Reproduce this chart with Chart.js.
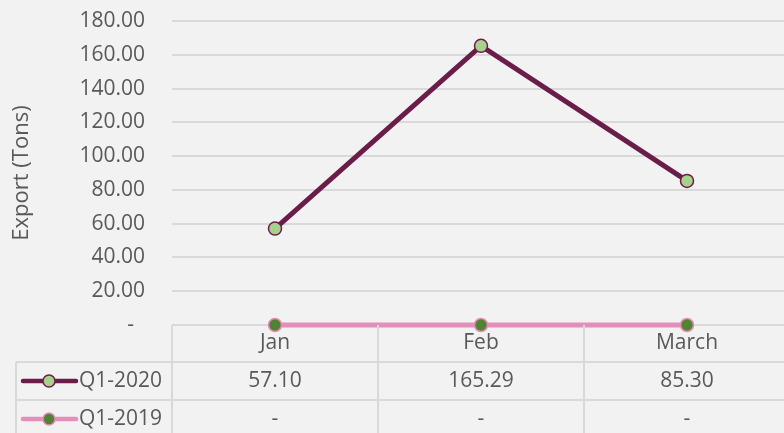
<!DOCTYPE html>
<html>
<head>
<meta charset="utf-8">
<script src="https://cdn.jsdelivr.net/npm/chart.js@4"></script>
<style>
  html, body { margin: 0; padding: 0; background: #f2f2f2; overflow: hidden; }
  #wrap { width: 784px; height: 433px; overflow: hidden; }
</style>
</head>
<body>
<div id="wrap"><canvas id="myChart" width="798" height="433"></canvas></div>
<script>
var months = ["Jan", "Feb", "March"];
var q2020 = [57.10, 165.29, 85.30];
var q2019 = [0, 0, 0];
var seriesNames = ["Q1-2020", "Q1-2019"];

var txt = "#595959";
var grid = "#d9d9d9";
var fam = "'Open Sans', sans-serif";
var fs = 21;

function fmt(v) {
  return v == 0 ? "-" : v.toFixed(2);
}

// excel style data table under the plot
var tablePlugin = {
  id: "dataTable",
  afterDraw: function(chart) {
    var ctx = chart.ctx;
    var xs = chart.scales.x;
    var area = chart.chartArea;
    var half = (xs.getPixelForValue(1) - xs.getPixelForValue(0)) / 2;
    var row1 = 362, row2 = 400, bottom = chart.height;
    ctx.save();
    ctx.strokeStyle = grid;
    ctx.lineWidth = 2;
    ctx.beginPath();
    ctx.moveTo(16, row1); ctx.lineTo(chart.width, row1);
    ctx.moveTo(16, row2); ctx.lineTo(chart.width, row2);
    ctx.moveTo(16, row1); ctx.lineTo(16, bottom);
    for (var i = 0; i < months.length; i++) {
      var bx = Math.round(xs.getPixelForValue(i) - half);
      ctx.moveTo(bx, area.bottom); ctx.lineTo(bx, bottom);
    }
    ctx.stroke();

    var rows = [q2020, q2019];
    var rowY = [381, 419];
    ctx.font = fs + "px " + fam;
    ctx.textBaseline = "middle";
    for (var r = 0; r < rows.length; r++) {
      var ds = chart.data.datasets[r];
      var y = rowY[r];
      // legend key
      ctx.strokeStyle = ds.borderColor;
      ctx.lineWidth = 4.5;
      ctx.lineCap = "round";
      ctx.beginPath();
      ctx.moveTo(23, y); ctx.lineTo(76, y);
      ctx.stroke();
      ctx.beginPath();
      ctx.arc(49, y, 6, 0, Math.PI * 2);
      ctx.fillStyle = ds.pointBackgroundColor;
      ctx.fill();
      ctx.lineWidth = 1.5;
      ctx.stroke();
      ctx.fillStyle = txt;
      ctx.textAlign = "left";
      ctx.fillText(seriesNames[r], 79, y);
      ctx.textAlign = "center";
      for (var c = 0; c < rows[r].length; c++) {
        ctx.fillText(fmt(rows[r][c]), xs.getPixelForValue(c), y);
      }
    }
    ctx.restore();
  }
};

var ctx = document.getElementById("myChart").getContext("2d");
var myChart = new Chart(ctx, {
  type: "line",
  data: {
    labels: months,
    datasets: [{
      label: seriesNames[0],
      data: q2020,
      borderColor: "#6b1d4a",
      borderWidth: 5,
      pointBackgroundColor: "#a9d18e",
      pointBorderColor: "#6b1d4a",
      pointBorderWidth: 1.5,
      pointRadius: 6.5,
      clip: false
    }, {
      label: seriesNames[1],
      data: q2019,
      borderColor: "#e38ebb",
      borderWidth: 5,
      pointBackgroundColor: "#548235",
      pointBorderColor: "#e38ebb",
      pointBorderWidth: 1.5,
      pointRadius: 6.5,
      clip: false
    }]
  },
  options: {
    responsive: false,
    animation: false,
    layout: { padding: { top: 21, right: 0, left: 0, bottom: 0 } },
    plugins: {
      legend: { display: false },
      tooltip: { enabled: false }
    },
    scales: {
      x: {
        offset: true,
        grid: { display: false, drawTicks: false },
        border: { display: false },
        ticks: { color: txt, font: { family: fam, size: fs }, padding: 5 },
        afterFit: function(scale) {
          scale.height = 108;
          scale.paddingLeft = 0;
          scale.paddingRight = 0;
        }
      },
      y: {
        min: 0,
        max: 180,
        grid: { color: grid, lineWidth: 2, drawTicks: false },
        border: { display: false },
        ticks: {
          stepSize: 20,
          color: txt,
          padding: 27,
          font: { family: fam, size: fs },
          callback: function(v) { return v == 0 ? "-  " : v.toFixed(2); }
        },
        title: {
          display: true,
          text: "Export (Tons)",
          color: txt,
          font: { family: fam, size: 22 },
          padding: { top: 9 }
        },
        afterFit: function(scale) {
          scale.width = 172;
          scale.paddingTop = 0;
          scale.paddingBottom = 0;
        }
      }
    }
  },
  plugins: [tablePlugin]
});
</script>
</body>
</html>
